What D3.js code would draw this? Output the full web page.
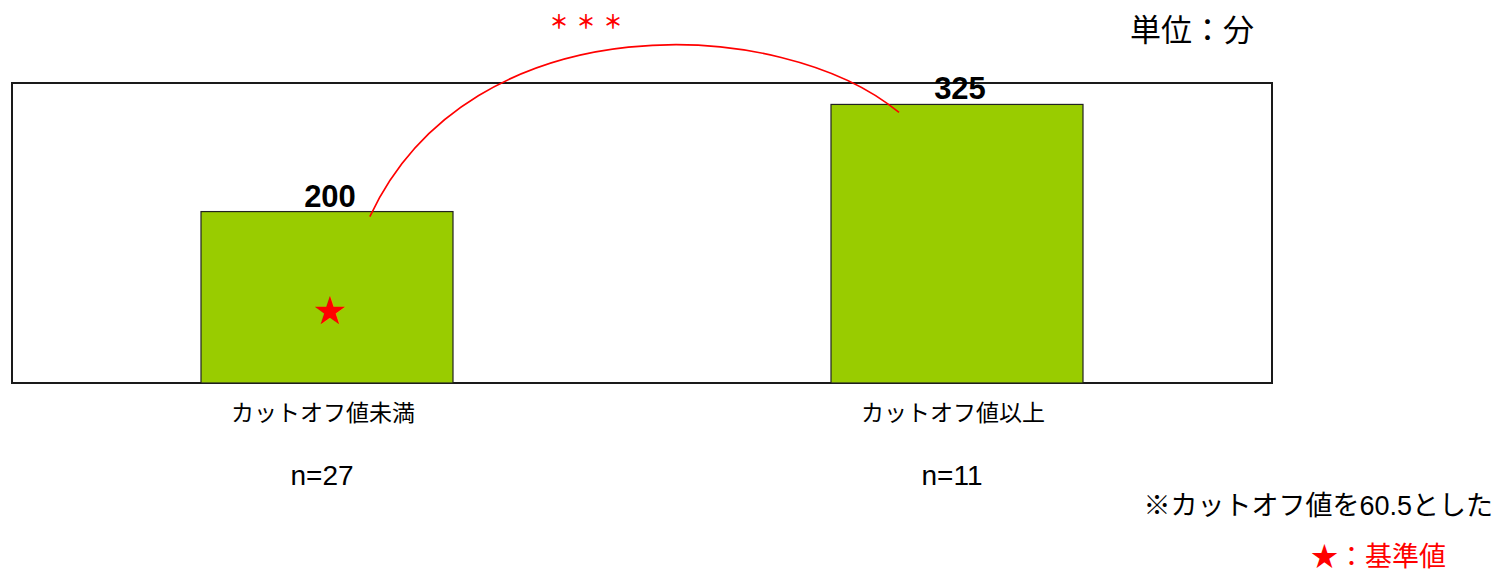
<!DOCTYPE html>
<html>
<head>
<meta charset="utf-8">
<script src="https://cdn.jsdelivr.net/npm/d3@7"></script>
<style>
  body { margin: 0; background: #fff; }
  text { font-family: "Liberation Sans", "Noto Sans CJK JP", sans-serif; }
</style>
</head>
<body>
<div id="chart"></div>
<script>
/* bar chart: time (minutes) by cutoff group */

const categories = ["カットオフ値未満", "カットオフ値以上"];
const values = [200, 325];
const counts = ["n=27", "n=11"];
const refIndex = 0;   // ★ = reference group

const height = 576,
      width = 1500,
      margin = ({top: 83, right: 228, bottom: 193, left: 12});

let svg = d3.select("#chart")
    .append("svg")
    .attr("width", width)
    .attr("height", height)
    .attr("viewBox", [0, 0, width, height]);

let x = d3.scaleBand()
    .domain(categories)
    .range([margin.left, width - margin.right])
    .paddingInner(0.6)
    .paddingOuter(0.3);

let y = d3.scaleLinear()
    .domain([0, 350])
    .range([height - margin.bottom, margin.top]);

// plot frame
svg.append("rect")
    .attr("x", margin.left)
    .attr("y", margin.top)
    .attr("width", width - margin.left - margin.right)
    .attr("height", height - margin.top - margin.bottom)
    .attr("fill", "none")
    .attr("stroke", "#1a1a1a")
    .attr("stroke-width", 2);

let bar = svg.selectAll(".bar")
    .data(categories)
    .join("g")
    .attr("class", "bar");

bar.append("rect")
    .attr("fill", "#99cc00")
    .attr("stroke", "#222")
    .attr("stroke-width", 1.2)
    .attr("x", d => x(d))
    .attr("width", x.bandwidth())
    .attr("y", (d, i) => y(values[i]))
    .attr("height", (d, i) => y(0) - y(values[i]));

bar.append("text")
    .text((d, i) => values[i])
    .attr("x", d => x(d) + x.bandwidth() / 2 + 3)
    .attr("y", (d, i) => y(values[i]) - 5)
    .attr("text-anchor", "middle")
    .style("font-weight", "bold")
    .style("font-size", "31px")
    .style("fill", "#000");

// category labels
bar.append("text")
    .text(d => d)
    .attr("x", d => x(d) + x.bandwidth() / 2 - 4)
    .attr("y", y(0) + 38)
    .attr("text-anchor", "middle")
    .style("font-size", "23px");

bar.append("text")
    .text((d, i) => counts[i])
    .attr("x", d => x(d) + x.bandwidth() / 2 - 5)
    .attr("y", y(0) + 102)
    .attr("text-anchor", "middle")
    .style("font-size", "28px");

// reference star
svg.append("text")
    .text("★")
    .attr("x", x(categories[refIndex]) + x.bandwidth() / 2 + 3)
    .attr("y", y(values[refIndex] / 2) + 25)
    .attr("text-anchor", "middle")
    .style("font-family", "'Noto Sans CJK JP'")
    .style("font-size", "32px")
    .style("fill", "red");

// significance arc
let x0 = x(categories[0]) + x.bandwidth() * 0.67,
    y0 = y(values[0]) + 5,
    x1 = x(categories[1]) + x.bandwidth() * 0.27,
    y1 = y(values[1]) + 8;

let arc = d3.path();
arc.moveTo(x0, y0);
arc.bezierCurveTo(x0 + 101, y0 - 216, x1 - 117, y1 - 97, x1, y1);

svg.append("path")
    .attr("d", arc.toString())
    .attr("fill", "none")
    .attr("stroke", "red")
    .attr("stroke-width", 1.6);

svg.append("text")
    .text("＊＊＊")
    .attr("x", 590)
    .attr("y", 29)
    .attr("text-anchor", "middle")
    .style("font-family", "'Noto Sans CJK JP'")
    .style("font-weight", "bold")
    .style("font-size", "19px")
    .style("letter-spacing", "8px")
    .style("fill", "red");

// unit and notes
svg.append("text")
    .text("単位：分")
    .attr("x", 1130)
    .attr("y", 41)
    .style("font-family", "'Noto Sans CJK JP'")
    .style("font-size", "31px");

svg.append("text")
    .text("※カットオフ値を60.5とした")
    .attr("x", 1493)
    .attr("y", 515)
    .attr("text-anchor", "end")
    .style("font-size", "27px");

svg.append("text")
    .text("★：基準値")
    .attr("x", 1311)
    .attr("y", 566)
    .style("font-family", "'Noto Sans CJK JP'")
    .style("font-size", "27px")
    .style("fill", "red");
</script>
</body>
</html>
